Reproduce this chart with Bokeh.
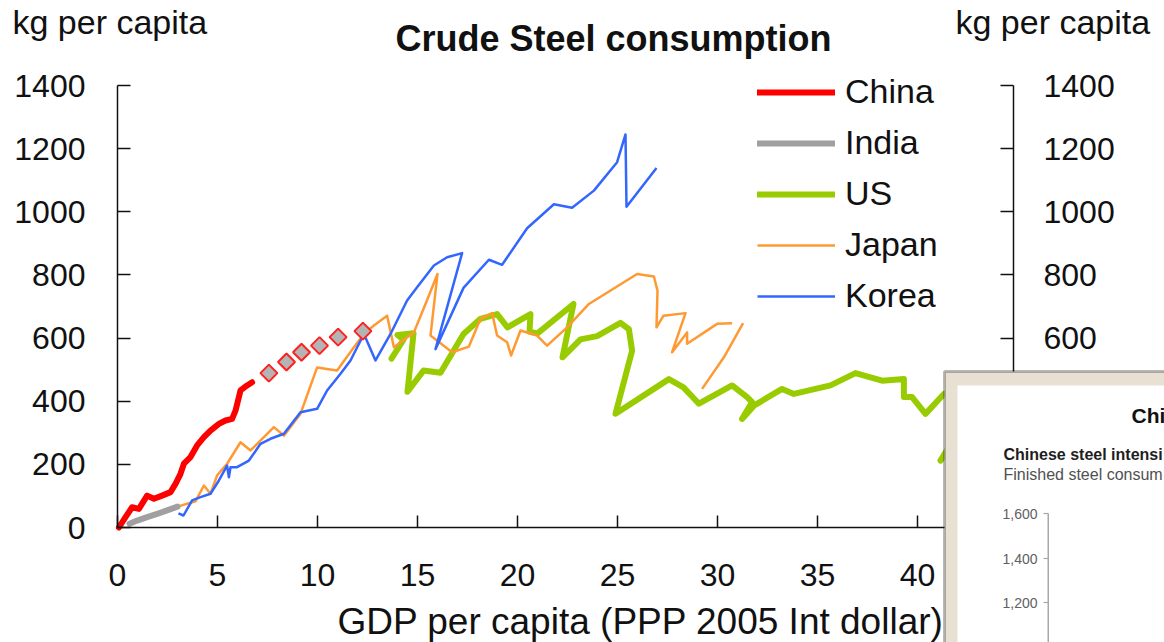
from bokeh.plotting import figure
from bokeh.models import (Range1d, LinearAxis, FixedTicker, Label, Legend,
                          LegendItem, BoxAnnotation)
from bokeh.embed import file_html
from bokeh.resources import INLINE

FONT = "Liberation Sans"

# ---------------- data ----------------
x_ticks = [0, 5, 10, 15, 20, 25, 30, 35, 40]
y_ticks = [0, 200, 400, 600, 800, 1000, 1200, 1400]

china_gdp = [0.07, 0.4, 0.73, 1.07, 1.48, 1.82, 2.23, 2.65, 2.9, 3.15, 3.32,
             3.65, 3.98, 4.32, 4.65, 5.07, 5.4, 5.73, 5.9, 6.15, 6.48, 6.73]
china_steel = [0, 33, 64, 59, 101, 91, 101, 112, 138, 170, 202,
               223, 260, 286, 307, 328, 339, 344, 370, 434, 450, 460]

china_proj_gdp = [7.57, 8.45, 9.2, 10.1, 11.03, 12.27]
china_proj_steel = [489, 524, 555, 576, 603, 622]

india_gdp = [0.6, 0.98, 1.48, 1.98, 2.48, 3.0]
india_steel = [12, 22, 33, 43, 54, 66]

us_gdp = [13.7, 14.3, 14.0, 14.8, 14.5, 15.3, 16.15, 17.3, 18.15, 18.98, 19.5,
          20.65, 20.6, 21.0, 22.8, 22.25, 23.15, 23.98, 25.15, 25.57, 25.73,
          24.9, 27.57, 28.3, 29.07, 30.73, 31.48, 31.73, 31.23, 31.82, 33.23,
          33.82, 35.65, 36.9, 38.23, 39.32, 39.32, 39.73, 40.4, 41.32, 42.5,
          42.0, 41.15]
us_steel = [535, 595, 610, 615, 430, 497, 490, 613, 661, 676, 634,
            676, 620, 615, 708, 539, 596, 606, 648, 628, 560,
            360, 470, 444, 392, 450, 413, 397, 344, 386, 439,
            423, 450, 489, 465, 470, 413, 413, 360, 423, 440,
            300, 212]

nan = float("nan")
japan_gdp = [3.0, 3.9, 4.32, 4.65, 4.98, 5.48, 6.15, 6.65, 7.32, 7.82, 8.32,
             9.15, 9.98, 10.98, 11.82, 12.32, 12.82, 13.48, 13.82, 14.82, 15.4,
             16.0, 15.65, 16.73, 17.57, 18.15, 18.73, 18.98, 19.48, 19.68, 20.15,
             20.98, 21.48, 22.48, 23.57, 25.98, 26.82, 27.0, 26.95, 27.3, 28.4,
             27.73, 28.48, 28.48, 29.98, 30.73, nan, 29.23, 30.32, 31.28]
japan_steel = [66, 83, 133, 107, 165, 202, 270, 244, 286, 318, 291,
               360, 507, 497, 571, 613, 640, 671, 571, 618, 708,
               803, 608, 555, 573, 661, 679, 608, 587, 545, 624,
               608, 576, 634, 708, 803, 795, 750, 634, 671, 679,
               555, 618, 582, 645, 647, nan, 439, 539, 647]

korea_gdp = [3.05, 3.3, 3.73, 4.15, 4.65, 5.07, 5.48, 5.57, 5.65, 5.98, 6.57,
             7.15, 7.65, 8.32, 9.15, 9.98, 10.48, 11.15, 11.65, 12.32, 12.9,
             13.65, 14.48, 14.98, 15.82, 16.48, 17.23, 15.9, 17.3, 18.57, 19.23,
             20.48, 21.82, 22.73, 23.82, 24.98, 25.4, 25.45, 26.95]
korea_steel = [45, 38, 86, 96, 107, 149, 196, 159, 191, 191, 212,
               265, 281, 297, 365, 376, 434, 487, 529, 613, 529,
               613, 719, 761, 830, 856, 869, 565, 759, 848, 832,
               948, 1024, 1013, 1067, 1157, 1245, 1016, 1139]

inset_ticks = ["1,600", "1,400", "1,200"]

# ---------------- layout (picture pixel coordinates) ----------------
W, H = 1164, 642
AX_L, AX_R, AX_T, AX_B = 117, 1013, 85, 527     # axis lines in pixels
XMAX = 44.8                                     # data value at right axis
PX_X = (AX_R - AX_L) / XMAX                     # px per GDP unit
PX_Y = (AX_B - AX_T) / 1400.0                   # px per kg

x0 = -AX_L / PX_X
x1 = (W - AX_L) / PX_X
y0 = -(H - AX_B) / PX_Y
y1 = 1400 + AX_T / PX_Y


def SX(px):
    return px


def SY(py):
    return H - py


p = figure(width=W, height=H, output_backend="svg", toolbar_location=None,
           x_range=Range1d(x0, x1), y_range=Range1d(y0, y1),
           x_axis_type=None, y_axis_type=None,
           min_border=0, min_border_left=0, min_border_right=0,
           min_border_top=0, min_border_bottom=0)
p.outline_line_color = None
p.background_fill_color = "white"
p.border_fill_color = "white"

AX = "#111111"
common = dict(axis_line_color=AX, axis_line_width=1.5, major_tick_line_color=AX,
              major_tick_line_width=1.5, minor_tick_line_color=None,
              major_label_text_font=FONT, major_label_text_font_size="32px",
              major_label_text_color="#111111", major_tick_out=0)

xax = LinearAxis(ticker=FixedTicker(ticks=x_ticks), major_tick_in=12,
                 major_label_standoff=36, fixed_location=0, bounds=(0, XMAX),
                 **common)
p.add_layout(xax, "below")
yax = LinearAxis(ticker=FixedTicker(ticks=y_ticks), major_tick_in=13,
                 major_label_standoff=32, fixed_location=0, bounds=(0, 1400),
                 **common)
p.add_layout(yax, "left")
yax2 = LinearAxis(ticker=FixedTicker(ticks=y_ticks), major_tick_in=13,
                  major_label_standoff=30, fixed_location=XMAX,
                  bounds=(0, 1400), **common)
p.add_layout(yax2, "right")

# ---------------- series ----------------
r_us = p.line(us_gdp, us_steel, line_color="#99cc00", line_width=6,
              line_join="round", line_cap="round")
r_jp = p.line(japan_gdp, japan_steel, line_color="#ff9933", line_width=2.5,
              line_join="round")
r_kr = p.line(korea_gdp, korea_steel, line_color="#3366ff", line_width=2.5,
              line_join="round")
r_in = p.line(india_gdp, india_steel, line_color="#a0a0a0", line_width=6,
              line_join="round", line_cap="round")
r_cn = p.line(china_gdp, china_steel, line_color="#ff0000", line_width=6,
              line_join="round", line_cap="round")
p.scatter(china_proj_gdp, china_proj_steel, marker="square", size=12,
          angle=0.785398, fill_color="#b4b4b4", line_color="#ff2020",
          line_width=2)

legend = Legend(items=[LegendItem(label="China", renderers=[r_cn]),
                       LegendItem(label="India", renderers=[r_in]),
                       LegendItem(label="US", renderers=[r_us]),
                       LegendItem(label="Japan", renderers=[r_jp]),
                       LegendItem(label="Korea", renderers=[r_kr])],
                location=(SX(757), SY(315)), orientation="vertical",
                border_line_color=None, background_fill_alpha=0,
                padding=0, margin=0, spacing=12, glyph_width=78,
                glyph_height=38, label_height=38, label_standoff=10,
                label_text_font=FONT, label_text_font_size="34px",
                label_text_color="#111111")
p.add_layout(legend)

# ---------------- texts ----------------
def lab(text, px, py, size, align="left", bold=False, color="#111111"):
    p.add_layout(Label(x=SX(px), y=SY(py), x_units="screen", y_units="screen",
                       text=text, text_font=FONT, text_font_size=size,
                       text_align=align, text_baseline="middle",
                       text_font_style="bold" if bold else "normal",
                       text_color=color))


lab("kg per capita", 12, 21, "34px")
lab("kg per capita", 955, 21, "34px")
lab("Crude Steel consumption", 613, 38, "36px", align="center", bold=True)
lab("GDP per capita (PPP 2005 Int dollar)", 337, 621, "37px")

# ---------------- inset (pasted screenshot of another chart) ----------------
def box(l, t, r, b, fill, line=None, lw=0):
    p.add_layout(BoxAnnotation(left=SX(l), right=SX(r), top=SY(t), bottom=SY(b),
                               left_units="screen", right_units="screen",
                               top_units="screen", bottom_units="screen",
                               fill_color=fill, fill_alpha=1,
                               line_color=line, line_width=lw))


box(944, 371, 1200, 700, "#e8e1d3", line="#1a1a1a", lw=3)
box(957, 385, 1200, 700, "#ffffff")
box(1047, 513, 1048.5, 700, "#a8a8a8")
for ty in [513, 558, 602]:
    box(1043, ty - 0.6, 1048, ty + 0.6, "#a8a8a8")

lab("Chi", 1131, 415, "21px", bold=True)
lab("Chinese steel intensi", 1003, 454, "16px", bold=True, color="#1e1e1e")
lab("Finished steel consum", 1003, 474, "16px", color="#505050")
for t, ty in zip(inset_ticks, [513, 558, 602]):
    lab(t, 1037, ty, "14px", align="right", color="#606060")

open("out.html", "w").write(file_html(p, INLINE))
